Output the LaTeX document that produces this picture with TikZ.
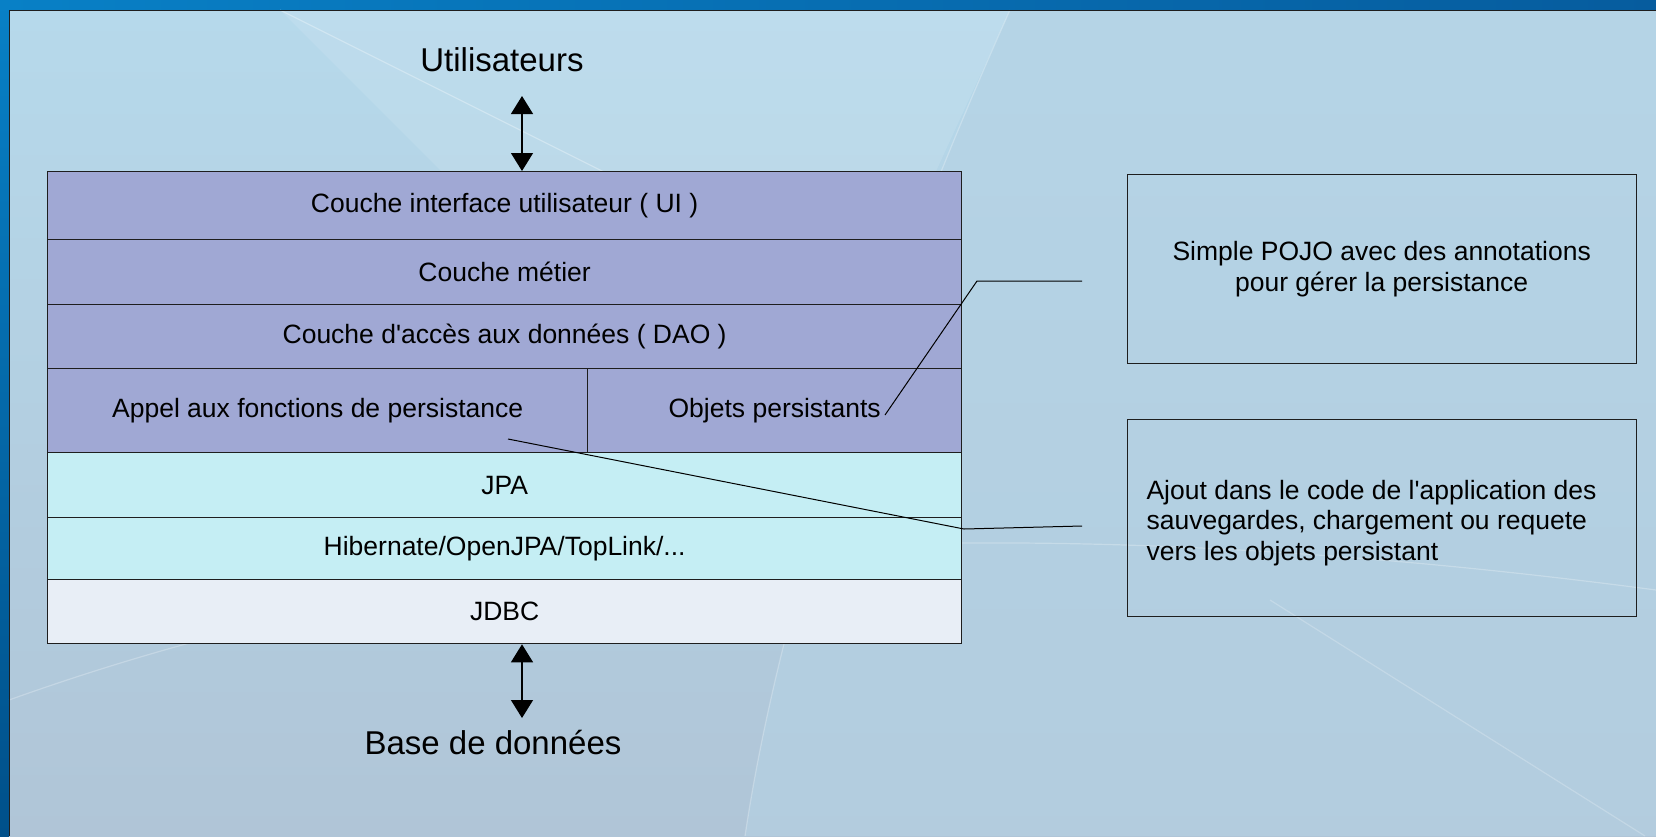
\documentclass[tikz,border=0pt]{standalone}
\usepackage{fontspec}
\setmainfont{Liberation Sans}
\usetikzlibrary{arrows.meta}
\definecolor{bandL}{RGB}{8,128,198}
\definecolor{bandR}{RGB}{6,92,158}
\definecolor{stripB}{RGB}{0,80,138}
\definecolor{bgTop}{RGB}{182,217,235}
\definecolor{bgBot}{RGB}{176,197,215}
\definecolor{bgLight}{RGB}{181,210,228}
\definecolor{layerA}{RGB}{160,168,212}
\definecolor{layerB}{RGB}{197,238,244}
\definecolor{layerC}{RGB}{232,238,246}
\definecolor{edge}{RGB}{30,30,30}
\tikzset{
  lbl/.style={font=\fontsize{26.5}{30.5}\selectfont, text=black, align=center},
  big/.style={font=\fontsize{33}{38}\selectfont, text=black},
  cell/.style={draw=edge, line width=1.3pt, inner sep=0pt, lbl},
  note/.style={draw=edge, line width=1.3pt},
  twoway/.style={line width=1.3pt, {Triangle[width=22pt,length=18pt]}-{Triangle[width=22pt,length=18pt]}},
  callout/.style={line width=1pt, draw=black}
}
\begin{document}
\begin{tikzpicture}[x=1pt,y=-1pt]
\useasboundingbox (0,0) rectangle (1656,836);
% background
\shade[top color=bandL, bottom color=stripB] (0,0) rectangle (1656,836);
\shade[left color=bandL, right color=bandR] (0,0) rectangle (1656,10);
\shade[top color=bgTop, bottom color=bgBot] (9,10) rectangle (1656,836);
\fill[bgLight, opacity=0.6] (1010,10) .. controls (880,300) and (780,600) .. (745,836) -- (1656,836) -- (1656,10) -- cycle;
\fill[white, opacity=0.1] (280,10) -- (1010,10) .. controls (900,250) and (820,420) .. (790,520) -- cycle;
\draw[white, opacity=0.3, line width=1.2pt] (280,10) .. controls (420,80) and (560,150) .. (660,200);
\draw[white, opacity=0.25, line width=1.2pt] (1010,10) .. controls (880,300) and (780,600) .. (745,836);
\draw[white, opacity=0.25, line width=1.2pt] (9,700) .. controls (400,560) and (900,490) .. (1656,590);
\draw[white, opacity=0.22, line width=1.2pt] (1270,600) -- (1645,836);
\draw[edge, line width=1pt] (9,836) -- (9,10) -- (1656,10);
% layer stack
\node[cell, fill=layerA, minimum width=914pt, minimum height=68pt, anchor=north west] (ui) at (47,171) {Couche interface utilisateur ( UI )};
\node[cell, fill=layerA, minimum width=914pt, minimum height=64.5pt, anchor=north west] (metier) at (47,239) {Couche métier};
\node[cell, fill=layerA, minimum width=914pt, minimum height=64.5pt, anchor=north west] (dao) at (47,303.5) {Couche d\textquotesingle accès aux données ( DAO )};
\node[cell, fill=layerA, minimum width=540pt, minimum height=84pt, anchor=north west] (appel) at (47,368) {Appel aux fonctions de persistance};
\node[cell, fill=layerA, minimum width=374pt, minimum height=84pt, anchor=north west] (objets) at (587,368) {Objets persistants};
\node[cell, fill=layerB, minimum width=914pt, minimum height=65pt, anchor=north west] (jpa) at (47,452) {JPA};
\node[cell, fill=layerB, minimum width=914pt, minimum height=62pt, anchor=north west] (hib) at (47,517) {Hibernate/OpenJPA/TopLink/...};
\node[cell, fill=layerC, minimum width=914pt, minimum height=64pt, anchor=north west] (jdbc) at (47,579) {JDBC};
% ends
\node[big] (users) at (502,60) {Utilisateurs};
\node[big] (db) at (493,742) {Base de données};
\coordinate (uTop) at (522,96);
\coordinate (dBot) at (522,718);
\draw[twoway] (uTop) -- (ui.north -| uTop);
\draw[twoway] (jdbc.south -| dBot) -- (dBot);
% notes
\node[note, minimum width=509pt, minimum height=189pt, anchor=north west] (pojo) at (1126.5,174) {};
\node[lbl] (pojotxt) at (pojo.center) {Simple POJO avec des annotations\\pour gérer la persistance};
\node[note, minimum width=509pt, minimum height=197pt, anchor=north west] (ajout) at (1126.5,419) {};
\node[lbl, align=left, anchor=west] (ajouttxt) at (1143,523) {Ajout dans le code de l\textquotesingle application des\\sauvegardes, chargement ou requete\\vers les objets persistant};
% callouts
\coordinate (c1a) at (1082,281);
\coordinate (c1b) at (977,281);
\coordinate (c1c) at (885,415);
\coordinate (c2a) at (1082,526);
\coordinate (c2b) at (964,529);
\coordinate (c2c) at (508,439);
\draw[callout] (c1a) -- (c1b) -- (c1c);
\draw[callout] (c2a) -- (c2b) -- (c2c);
\end{tikzpicture}
\end{document}
